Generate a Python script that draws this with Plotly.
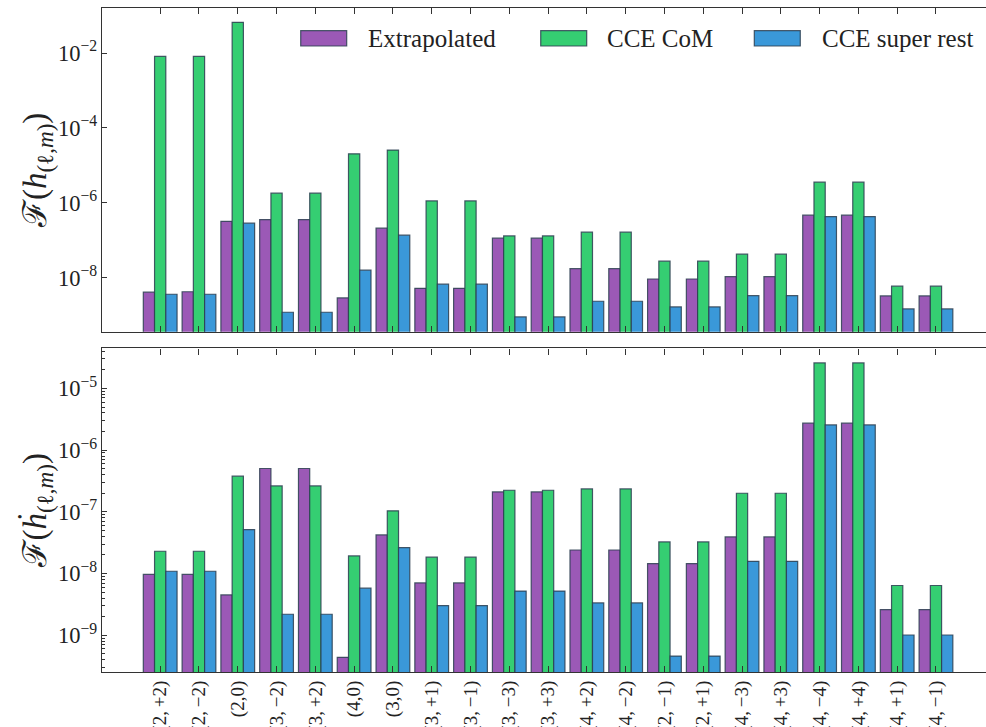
import plotly.graph_objects as go

modes = ["(2,\u2009+2)", "(2,\u2009\u22122)", "(2,0)", "(3,\u2009\u22122)", "(3,\u2009+2)", "(4,0)", "(3,0)",
         "(3,\u2009+1)", "(3,\u2009\u22121)", "(3,\u2009\u22123)", "(3,\u2009+3)", "(4,\u2009+2)", "(4,\u2009\u22122)",
         "(2,\u2009\u22121)", "(2,\u2009+1)", "(4,\u2009\u22123)", "(4,\u2009+3)", "(4,\u2009\u22124)", "(4,\u2009+4)",
         "(4,\u2009+1)", "(4,\u2009\u22121)"]

series_names = ["Extrapolated", "CCE CoM", "CCE super rest"]

# Top panel: F(h)
h_extrap = [4.1e-9, 4.2e-9, 3.2e-7, 3.56e-7, 3.56e-7, 2.87e-9, 2.1e-7, 5.2e-9, 5.2e-9, 1.13e-7, 1.13e-7,
            1.74e-8, 1.74e-8, 9.2e-9, 9.2e-9, 1.06e-8, 1.06e-8, 4.65e-7, 4.65e-7, 3.24e-9, 3.24e-9]
h_com = [8.1e-3, 8.1e-3, 6.6e-2, 1.81e-6, 1.81e-6, 2.03e-5, 2.55e-5, 1.12e-6, 1.12e-6, 1.30e-7, 1.30e-7,
         1.64e-7, 1.64e-7, 2.75e-8, 2.75e-8, 4.23e-8, 4.23e-8, 3.56e-6, 3.56e-6, 5.9e-9, 5.9e-9]
h_super = [3.6e-9, 3.6e-9, 2.85e-7, 1.19e-9, 1.19e-9, 1.58e-8, 1.36e-7, 6.7e-9, 6.7e-9, 8.9e-10, 8.9e-10,
           2.34e-9, 2.34e-9, 1.65e-9, 1.65e-9, 3.3e-9, 3.3e-9, 4.28e-7, 4.28e-7, 1.46e-9, 1.46e-9]

# Bottom panel: F(hdot)
hd_extrap = [9.7e-9, 9.7e-9, 4.5e-9, 5.04e-7, 5.04e-7, 4.4e-10, 4.23e-8, 7.05e-9, 7.05e-9, 2.1e-7, 2.1e-7,
             2.41e-8, 2.41e-8, 1.45e-8, 1.45e-8, 3.92e-8, 3.92e-8, 2.73e-6, 2.73e-6, 2.61e-9, 2.61e-9]
hd_com = [2.3e-8, 2.3e-8, 3.78e-7, 2.63e-7, 2.63e-7, 1.93e-8, 1.04e-7, 1.84e-8, 1.84e-8, 2.24e-7, 2.24e-7,
          2.35e-7, 2.35e-7, 3.25e-8, 3.25e-8, 2.0e-7, 2.0e-7, 2.59e-5, 2.59e-5, 6.4e-9, 6.4e-9]
hd_super = [1.09e-8, 1.09e-8, 5.16e-8, 2.19e-9, 2.19e-9, 5.8e-9, 2.64e-8, 3.03e-9, 3.03e-9, 5.2e-9, 5.2e-9,
            3.34e-9, 3.34e-9, 4.6e-10, 4.6e-10, 1.58e-8, 1.58e-8, 2.56e-6, 2.56e-6, 1.01e-9, 1.01e-9]

colors = ["#9b59b6", "#35ce72", "#3a98d9"]
edge = "rgba(44,62,80,0.85)"
FONT = "Liberation Serif"

fig = go.Figure()
for name, vals, col in zip(series_names, [h_extrap, h_com, h_super], colors):
    fig.add_trace(go.Bar(x=modes, y=vals, name=name, marker=dict(color=col, line=dict(color=edge, width=1.2)),
                         xaxis="x", yaxis="y", offsetgroup=name, legendgroup=name, showlegend=False))
for name, vals, col in zip(series_names, [hd_extrap, hd_com, hd_super], colors):
    fig.add_trace(go.Bar(x=modes, y=vals, name=name, marker=dict(color=col, line=dict(color=edge, width=1.2)),
                         xaxis="x2", yaxis="y2", offsetgroup=name, legendgroup=name, showlegend=False))

# Legend drawn as swatches + labels (matplotlib-style wide patches)
swatch_x0 = [0.2248, 0.4963, 0.7379]
sw_w = 0.052
label_x = [0.2986, 0.5690, 0.8122]
shapes = []
annotations = []
for name, col, x0, lx in zip(series_names, colors, swatch_x0, label_x):
    shapes.append(dict(type="rect", xref="paper", yref="paper", x0=x0, x1=x0 + sw_w, y0=0.9428, y1=0.9658,
                       fillcolor=col, line=dict(color=edge, width=1.2)))
    annotations.append(dict(text=name, xref="paper", yref="paper", x=lx, y=0.954, xanchor="left",
                            yanchor="middle", showarrow=False, font=dict(family=FONT, size=25, color="#222")))

axis_line = dict(showline=True, linecolor="#333", linewidth=1.3, ticks="inside", tickcolor="#333",
                 showgrid=False, zeroline=False, automargin=False)

fig.update_layout(
    width=986, height=727,
    margin=dict(l=102, r=0, t=8, b=55),
    paper_bgcolor="white", plot_bgcolor="white",
    barmode="group", bargap=0.13, bargroupgap=0,
    font=dict(family=FONT, size=16, color="#222"),
    showlegend=False,
    shapes=shapes, annotations=annotations,
    xaxis=dict(**axis_line, anchor="y", domain=[0, 1], range=[-1.5, 21.29], mirror="ticks",
               ticklen=6, showticklabels=False, type="category"),
    xaxis2=dict(**axis_line, anchor="y2", domain=[0, 1], range=[-1.5, 21.29], mirror="ticks",
                ticklen=6, matches="x", type="category", tickangle=-90,
                tickfont=dict(family=FONT, size=19, color="#222")),
    yaxis=dict(**axis_line, type="log", domain=[0.5125, 1], range=[-9.444, -0.797], dtick=2,
               exponentformat="power", ticklen=5, tickfont=dict(size=18),
               title=dict(text="\u2131(<i>h</i><sub>(\u2113,<i>m</i>)</sub>)", font=dict(size=33), standoff=0)),
    yaxis2=dict(**axis_line, type="log", domain=[0, 0.4873], range=[-9.595, -4.352], dtick=1,
                exponentformat="power", ticklen=5, tickfont=dict(size=18),
                minor=dict(ticks="inside", ticklen=3, tickcolor="#333", showgrid=False),
                title=dict(text="\u2131(<i>\u1e23</i><sub>(\u2113,<i>m</i>)</sub>)", font=dict(size=33), standoff=0)),
)

fig.write_html("out.html", config={"displayModeBar": False},
               post_script="document.body.style.margin='0';document.body.style.overflow='hidden';")
